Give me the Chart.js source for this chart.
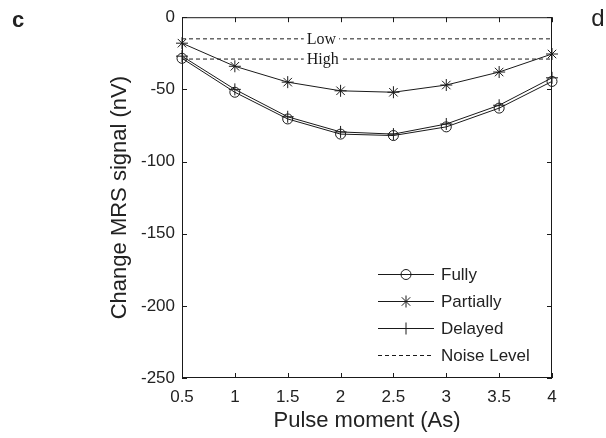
<!DOCTYPE html>
<html>

<head>
    <title>Change MRS signal vs pulse moment</title>
    <style>
        html,
        body {
            margin: 0;
            padding: 0;
            background-color: #fff;
        }

        #wrap {
            width: 606px;
            height: 438px;
        }
    </style>
</head>

<body>
    <div id="wrap">
        <canvas id="chart-mrs-canvas" width="606" height="438"></canvas>
    </div>
    <script src="https://cdn.jsdelivr.net/npm/chart.js"></script>
    <script>
        // Pulse moments (As) and signal change (nV) for each scenario
        const pulseMoments = [0.5, 1, 1.5, 2, 2.5, 3, 3.5, 4];
        const fully = [-28.5, -52, -70.5, -81, -82, -76, -63, -44.5];
        const partially = [-18, -34, -45, -51, -52, -47, -38, -25.5];
        const delayed = [-27, -50, -69, -79.5, -81, -74, -61, -42];

        const noiseLevels = [-15, -29];
        const noiseNames = ['Low', 'High'];

        const xTicks = [0.5, 1, 1.5, 2, 2.5, 3, 3.5, 4];
        const yTicks = [0, -50, -100, -150, -200, -250];

        const legendNames = ['Fully', 'Partially', 'Delayed', 'Noise Level'];

        const ink = '#1a1a1a';
        const sans = 'Arial, "Liberation Sans", sans-serif';
        const serif = '"Times New Roman", "Liberation Serif", serif';

        const toPoints = (ys) => pulseMoments.map((x, i) => ({ x, y: ys[i] }));

        const seriesStyle = (pointStyle, radius) => ({
            borderColor: ink,
            borderWidth: 1,
            pointStyle,
            pointRadius: radius,
            pointHoverRadius: radius,
            pointBorderColor: ink,
            pointBorderWidth: 1,
            pointBackgroundColor: 'rgba(0,0,0,0)',
            tension: 0,
            clip: false,
        });

        const noiseDatasets = noiseLevels.map((level, i) => ({
            label: `${noiseNames[i]} noise`,
            data: [{ x: xTicks[0], y: level }, { x: xTicks[xTicks.length - 1], y: level }],
            borderColor: ink,
            borderWidth: 1,
            borderDash: [4, 3],
            pointRadius: 0,
        }));

        const drawMarker = (ctx, style, x, y, r) => {
            ctx.beginPath();
            if (style === 'circle') {
                ctx.arc(x, y, r, 0, Math.PI * 2);
            } else {
                ctx.moveTo(x - r, y); ctx.lineTo(x + r, y);
                ctx.moveTo(x, y - r); ctx.lineTo(x, y + r);
                if (style === 'star') {
                    const d = r * Math.SQRT1_2;
                    ctx.moveTo(x - d, y - d); ctx.lineTo(x + d, y + d);
                    ctx.moveTo(x - d, y + d); ctx.lineTo(x + d, y - d);
                }
            }
            ctx.stroke();
        };

        // Box, inward ticks, titles, noise labels and the in-plot legend
        const decorations = {
            id: 'decorations',
            afterDraw(chart) {
                const { ctx, chartArea: a, scales: { x, y } } = chart;
                ctx.save();
                ctx.strokeStyle = ink;
                ctx.lineWidth = 1;

                ctx.strokeRect(a.left + 0.5, a.top + 0.5, a.right - a.left - 1, a.bottom - a.top - 1);

                const tl = 5;
                ctx.beginPath();
                xTicks.forEach((v) => {
                    const px = Math.round(x.getPixelForValue(v)) + 0.5;
                    ctx.moveTo(px, a.bottom); ctx.lineTo(px, a.bottom - tl);
                    ctx.moveTo(px, a.top); ctx.lineTo(px, a.top + tl);
                });
                yTicks.forEach((v) => {
                    const py = Math.round(y.getPixelForValue(v)) + 0.5;
                    ctx.moveTo(a.left, py); ctx.lineTo(a.left + tl, py);
                    ctx.moveTo(a.right, py); ctx.lineTo(a.right - tl, py);
                });
                ctx.stroke();

                // noise level names sitting on their dashed lines
                ctx.font = `16px ${serif}`;
                ctx.textBaseline = 'middle';
                ctx.textAlign = 'left';
                noiseLevels.forEach((level, i) => {
                    const tx = x.getPixelForValue(1.68);
                    const ty = y.getPixelForValue(level);
                    const w = ctx.measureText(noiseNames[i]).width;
                    ctx.fillStyle = '#fff';
                    ctx.fillRect(tx - 3, ty - 6, w + 6, 12);
                    ctx.fillStyle = ink;
                    ctx.fillText(noiseNames[i], tx, ty + 1);
                });

                // legend
                const styles = ['circle', 'star', 'cross', 'dash'];
                ctx.font = `17px ${sans}`;
                legendNames.forEach((name, i) => {
                    const ly = 274.5 + i * 27;
                    const x0 = 378, x1 = 434;
                    ctx.beginPath();
                    if (styles[i] === 'dash') ctx.setLineDash([4, 3]);
                    ctx.moveTo(x0, ly); ctx.lineTo(x1, ly);
                    ctx.stroke();
                    ctx.setLineDash([]);
                    if (styles[i] !== 'dash') drawMarker(ctx, styles[i], (x0 + x1) / 2, ly, styles[i] === 'circle' ? 5 : 6);
                    ctx.fillStyle = '#222';
                    ctx.fillText(name, 441, ly + 1);
                });

                // axis titles
                ctx.fillStyle = '#222';
                ctx.font = `22px ${sans}`;
                ctx.textAlign = 'center';
                ctx.fillText('Pulse moment (As)', (a.left + a.right) / 2, 421);
                ctx.save();
                ctx.translate(120, (a.top + a.bottom) / 2);
                ctx.rotate(-Math.PI / 2);
                ctx.fillText('Change MRS signal (nV)', 0, 0);
                ctx.restore();

                // panel letters
                ctx.font = `bold 22px ${sans}`;
                ctx.fillText('c', 18, 21);
                ctx.font = `24px ${sans}`;
                ctx.fillText('d', 598, 19);
                ctx.restore();
            }
        };

        const ctx = document.getElementById('chart-mrs-canvas');

        new Chart(ctx, {
            type: 'line',
            data: {
                datasets: [
                    { label: 'Fully', data: toPoints(fully), ...seriesStyle('circle', 5) },
                    { label: 'Partially', data: toPoints(partially), ...seriesStyle('star', 6) },
                    { label: 'Delayed', data: toPoints(delayed), ...seriesStyle('cross', 6) },
                    ...noiseDatasets,
                ]
            },
            options: {
                responsive: false,
                animation: false,
                events: [],
                layout: {
                    padding: { left: 0, top: 6, right: 54, bottom: 0 }
                },
                plugins: {
                    legend: { display: false },
                    tooltip: { enabled: false },
                },
                scales: {
                    x: {
                        type: 'linear',
                        min: 0.5,
                        max: 4,
                        afterBuildTicks: (scale) => { scale.ticks = xTicks.map((value) => ({ value })); },
                        afterFit: (scale) => { scale.height = 60; },
                        grid: { drawOnChartArea: false, drawTicks: false },
                        border: { display: false },
                        ticks: {
                            color: '#222',
                            font: { family: sans, size: 17 },
                            padding: 9,
                            maxRotation: 0,
                            autoSkip: false,
                            callback: (v) => String(v),
                        }
                    },
                    y: {
                        min: -250,
                        max: 0,
                        afterBuildTicks: (scale) => { scale.ticks = yTicks.map((value) => ({ value })); },
                        afterFit: (scale) => { scale.width = 182; },
                        grid: { drawOnChartArea: false, drawTicks: false },
                        border: { display: false },
                        ticks: {
                            color: '#222',
                            font: { family: sans, size: 17 },
                            padding: 7,
                            autoSkip: false,
                            callback: (v) => String(v),
                        }
                    }
                }
            },
            plugins: [decorations]
        });
    </script>
</body>

</html>
